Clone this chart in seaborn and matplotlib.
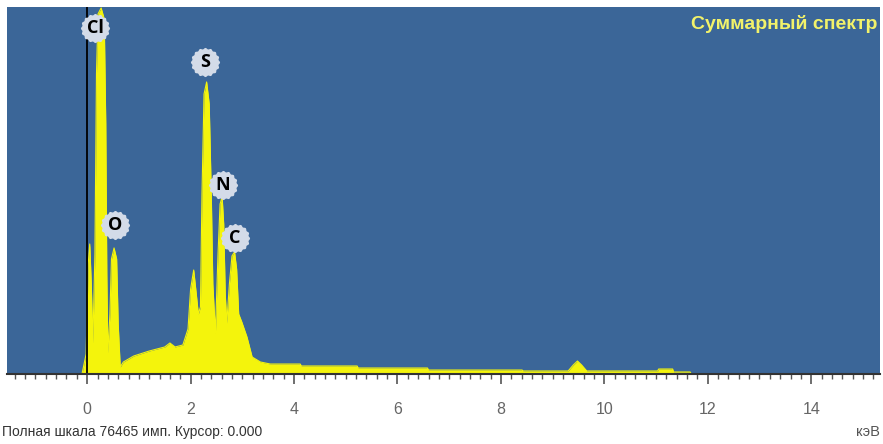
import numpy as np
import matplotlib
matplotlib.use("Agg")
import matplotlib.pyplot as plt
from matplotlib.path import Path
from matplotlib.ticker import MultipleLocator
import seaborn as sns
import pandas as pd

sns.set_theme(style="white")
plt.rcParams['font.family'] = ['Liberation Sans', 'DejaVu Sans']

# spectrum: energy (keV) and counts
energy = [-0.10, -0.02, 0.02, 0.05, 0.08, 0.11, 0.15, 0.18, 0.21, 0.27,
          0.33, 0.36, 0.38, 0.40, 0.44, 0.47, 0.52, 0.57, 0.60, 0.64,
          0.70, 0.90, 1.20, 1.50, 1.60, 1.70, 1.85, 1.95, 2.00, 2.06,
          2.11, 2.15, 2.19, 2.22, 2.26, 2.31, 2.36, 2.40, 2.43, 2.48,
          2.53, 2.57, 2.61, 2.64, 2.67, 2.70, 2.75, 2.80, 2.85, 2.89,
          2.93, 2.99, 3.09, 3.19, 3.35, 3.54, 4.12, 4.14, 5.22, 5.24,
          6.58, 6.60, 8.41, 8.43, 9.30, 9.40, 9.48, 9.56, 9.66, 11.03,
          11.05, 11.32, 11.34, 11.66, 11.68, 15.50]
counts = [0, 4170, 22920, 27090, 18760, 6460, 25010, 62520, 75020, 76270,
          73980, 52100, 20840, 4380, 12500, 23970, 26260, 23970, 10420, 1460,
          2500, 3750, 4790, 5630, 6460, 5630, 6040, 9380, 17710, 21670,
          16670, 12500, 13960, 37510, 58350, 60850, 56270, 37510, 18760, 8540,
          25010, 35430, 36890, 31260, 16670, 10630, 18760, 24590, 25430, 21880,
          12500, 10840, 7710, 3540, 2500, 2080, 2080, 1670, 1670, 1250,
          1250, 830, 830, 630, 630, 1880, 2710, 1880, 630, 630,
          1040, 1040, 420, 420, 0, 0]

# element markers: name, energy, counts of the label
elements = ['Cl', 'O', 'S', 'N', 'C']
elem_energy = [0.155, 0.54, 2.28, 2.63, 2.86]
elem_counts = [72100, 31050, 65020, 39390, 28340]

full_scale = 76465
cursor = 0.000

df = pd.DataFrame({'energy': energy, 'counts': counts})

bg = '#3b6698'
yellow = '#f4f40c'

fig = plt.figure(figsize=(8.83, 4.44), dpi=100)
ax = fig.add_axes([7 / 883, 70 / 444, 873 / 883, 367 / 444])
ax.set_facecolor(bg)

ax.fill_between(df['energy'], df['counts'], color=yellow, lw=0)
sns.lineplot(data=df, x='energy', y='counts', color=yellow, lw=0.8, ax=ax)

ax.axvline(cursor, color='black', lw=1.3)

# scalloped badge marker
t = np.linspace(0, 2 * np.pi, 161)
r = 1 + 0.045 * np.cos(16 * t)
badge = Path(np.column_stack([r * np.cos(t), r * np.sin(t)]), closed=True)
for name, ex, ey in zip(elements, elem_energy, elem_counts):
    ax.plot(ex, ey, marker=badge, markersize=21, color='#d3dbe8',
            markeredgewidth=0, zorder=4)
    ax.text(ex, ey, name, ha='center', va='center', fontsize=13,
            fontweight='bold', color='black', zorder=5,
            family=['Open Sans', 'DejaVu Sans'])

ax.text(0.997, 0.955, 'Суммарный спектр', transform=ax.transAxes,
        ha='right', va='center', fontsize=14, fontweight='bold',
        color='#f2f26a')

ax.set_xlim(-1.55, 15.33)
ax.set_ylim(0, full_scale)
ax.set_xlabel('')
ax.set_ylabel('')
ax.set_yticks([])
ax.xaxis.set_major_locator(MultipleLocator(2))
ax.xaxis.set_minor_locator(MultipleLocator(0.2))
ax.tick_params(axis='x', which='major', direction='out', length=7, width=1.2,
               color='#555555', pad=13, labelsize=11.5, labelcolor='#666666',
               bottom=True)
ax.tick_params(axis='x', which='minor', direction='out', length=3.5, width=1,
               color='#555555', bottom=True)
for s in ['top', 'left', 'right']:
    ax.spines[s].set_visible(False)
ax.spines['bottom'].set_color('#333333')
ax.spines['bottom'].set_linewidth(1.5)

fig.text(2 / 883, 12 / 444, 'Полная шкала %d имп. Курсор: %.3f' % (full_scale, cursor),
         ha='left', va='center', fontsize=10, color='#333333')
fig.text(880 / 883, 12 / 444, 'кэВ', ha='right', va='center',
         fontsize=10.5, color='#555555')

fig.savefig('out.png', dpi=100)
